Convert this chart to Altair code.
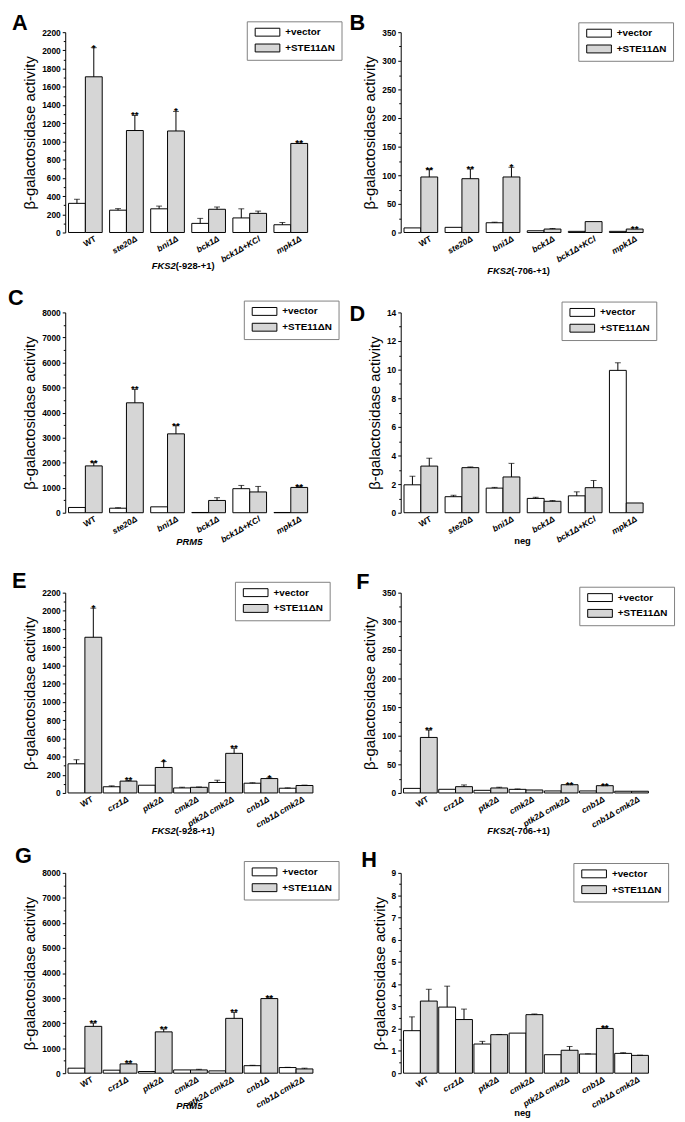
import altair as alt
import pandas as pd

SERIES = ["+vector", "+STE11ΔN"]
FILL_COLORS = ["#ffffff", "#d6d6d6"]
LETTERS = ["A", "B", "C", "D", "E", "F", "G", "H"]
Y_TITLE = "β-galactosidase activity"

GROUPS_1 = ["WT", "ste20Δ", "bni1Δ", "bck1Δ", "bck1Δ+KCl", "mpk1Δ"]
GROUPS_2 = ["WT", "crz1Δ", "ptk2Δ", "cmk2Δ", "ptk2Δ cmk2Δ", "cnb1Δ", "cnb1Δ cmk2Δ"]

# Panel A  FKS2 (-928-+1)
A_vec = [320, 245, 260, 100, 160, 85]
A_vec_err = [45, 17, 30, 55, 100, 25]
A_ste = [1710, 1120, 1115, 255, 210, 978]
A_ste_err = [320, 165, 215, 25, 25, 5]
A_stars = ["*", "**", "*", "", "", "**"]

# Panel B  FKS2 (-706-+1)
B_vec = [8, 9, 17, 3, 2, 2]
B_vec_err = [0, 0, 1, 0, 0, 0]
B_ste = [97, 94, 97, 6, 19, 6]
B_ste_err = [13, 17, 17, 1, 0, 0]
B_stars = ["**", "**", "*", "", "", "**"]

# Panel C  PRM5
C_vec = [210, 180, 235, 10, 960, 10]
C_vec_err = [0, 20, 0, 0, 130, 0]
C_ste = [1870, 4390, 3150, 490, 830, 1010]
C_ste_err = [130, 530, 330, 110, 220, 30]
C_stars = ["**", "**", "**", "", "", "**"]

# Panel D  neg
D_vec = [1.95, 1.12, 1.72, 1.0, 1.18, 9.95]
D_vec_err = [0.6, 0.1, 0.05, 0.08, 0.28, 0.53]
D_ste = [3.26, 3.15, 2.5, 0.8, 1.75, 0.68]
D_ste_err = [0.55, 0.05, 0.95, 0.05, 0.5, 0]
D_stars = ["", "", "", "", "", ""]

# Panel E  FKS2 (-928-+1)
E_vec = [320, 68, 85, 55, 115, 107, 52]
E_vec_err = [45, 10, 0, 8, 25, 5, 4]
E_ste = [1710, 130, 280, 62, 435, 158, 82]
E_ste_err = [320, 7, 65, 4, 55, 8, 4]
E_stars = ["*", "**", "*", "", "**", "*", ""]

# Panel F  FKS2 (-706-+1)
F_vec = [8, 6.4, 4.6, 6.3, 3.5, 3.5, 3]
F_vec_err = [0, 0, 0, 0.7, 0, 0, 0]
F_ste = [97, 11, 8.7, 5.2, 14.4, 12.7, 3]
F_ste_err = [13, 3, 1.3, 0, 0, 0, 0]
F_stars = ["**", "", "", "", "**", "**", ""]

# Panel G  PRM5
G_vec = [200, 120, 66, 130, 92, 300, 225]
G_vec_err = [0, 0, 0, 0, 0, 15, 10]
G_ste = [1870, 370, 1650, 130, 2190, 2980, 170]
G_ste_err = [130, 25, 115, 25, 235, 25, 30]
G_stars = ["**", "**", "**", "", "**", "**", ""]

# Panel H  neg
H_vec = [1.91, 2.97, 1.31, 1.8, 0.83, 0.86, 0.89]
H_vec_err = [0.62, 0.94, 0.12, 0, 0, 0.01, 0.03]
H_ste = [3.24, 2.41, 1.73, 2.63, 1.03, 2.01, 0.8]
H_ste_err = [0.53, 0.47, 0.01, 0.03, 0.17, 0.03, 0.01]
H_stars = ["", "", "", "", "", "**", ""]

# Axis ticks (major labelled, minor unlabelled)
TICKS_2200 = [0, 200, 400, 600, 800, 1000, 1200, 1400, 1600, 1800, 2000, 2200]
MINOR_2200 = [100, 300, 500, 700, 900, 1100, 1300, 1500, 1700, 1900, 2100]
TICKS_350 = [0, 50, 100, 150, 200, 250, 300, 350]
MINOR_350 = [25, 75, 125, 175, 225, 275, 325]
TICKS_8000 = [0, 1000, 2000, 3000, 4000, 5000, 6000, 7000, 8000]
MINOR_8000 = [500, 1500, 2500, 3500, 4500, 5500, 6500, 7500]
TICKS_14 = [0, 2, 4, 6, 8, 10, 12, 14]
MINOR_14 = [1, 3, 5, 7, 9, 11, 13]
TICKS_9 = [0, 1, 2, 3, 4, 5, 6, 7, 8, 9]
MINOR_9 = [0.5, 1.5, 2.5, 3.5, 4.5, 5.5, 6.5, 7.5, 8.5]

# x titles: (italic gene part, normal part)
XTITLES = [("FKS2", " (-928-+1)"), ("FKS2", " (-706-+1)"), ("PRM5", ""), ("", "neg"),
           ("FKS2", " (-928-+1)"), ("FKS2", " (-706-+1)"), ("PRM5", ""), ("", "neg")]

W, H = 249, 203

PANELS = [
    (GROUPS_1, A_vec, A_vec_err, A_ste, A_ste_err, A_stars, TICKS_2200, MINOR_2200),
    (GROUPS_1, B_vec, B_vec_err, B_ste, B_ste_err, B_stars, TICKS_350, MINOR_350),
    (GROUPS_1, C_vec, C_vec_err, C_ste, C_ste_err, C_stars, TICKS_8000, MINOR_8000),
    (GROUPS_1, D_vec, D_vec_err, D_ste, D_ste_err, D_stars, TICKS_14, MINOR_14),
    (GROUPS_2, E_vec, E_vec_err, E_ste, E_ste_err, E_stars, TICKS_2200, MINOR_2200),
    (GROUPS_2, F_vec, F_vec_err, F_ste, F_ste_err, F_stars, TICKS_350, MINOR_350),
    (GROUPS_2, G_vec, G_vec_err, G_ste, G_ste_err, G_stars, TICKS_8000, MINOR_8000),
    (GROUPS_2, H_vec, H_vec_err, H_ste, H_ste_err, H_stars, TICKS_9, MINOR_9),
]

# per-panel placement (legend x/y, letter x/y, x-title offset below axis, x-title split x)
LAYOUT = [
    dict(leg=(184, -11), let=(-54, -2), xt=34, split=112),
    dict(leg=(180, -10), let=(-52, -2), xt=39, split=112),
    dict(leg=(181, -12), let=(-58, -8), xt=30, split=139),
    dict(leg=(163, -11), let=(-52, 9), xt=29, split=115),
    dict(leg=(172, -11), let=(-54, -5), xt=39, split=112),
    dict(leg=(181, -6), let=(-45, -4), xt=39, split=112),
    dict(leg=(181, -12), let=(-51, -10), xt=33, split=139),
    dict(leg=(175, -10), let=(-40, -6), xt=40, split=115),
]

FONT = "Liberation Sans"
LABEL_ANGLE = 330


def make_panel(idx):
    groups, vec, vec_err, ste, ste_err, stars, major, minor = PANELS[idx]
    lay = LAYOUT[idx]
    rows = []
    for i, g in enumerate(groups):
        rows.append(dict(group=g, series=SERIES[0], value=vec[i], err=vec_err[i], star=""))
        rows.append(dict(group=g, series=SERIES[1], value=ste[i], err=ste_err[i], star=stars[i]))
    df = pd.DataFrame(rows)
    df["top"] = df["value"] + df["err"]

    yscale = alt.Scale(domain=[major[0], major[-1]], nice=False, zero=True)
    xscale = alt.Scale(paddingInner=0.18, paddingOuter=0.08)
    x_enc = alt.X(
        "group:N", sort=groups, title=None, scale=xscale,
        axis=alt.Axis(labels=False, tickBand="extent", tickSize=3, tickColor="black",
                      domainColor="black"),
    )
    xo = alt.XOffset("series:N", sort=SERIES, scale=alt.Scale(paddingInner=0, paddingOuter=0))
    base = alt.Chart(df).encode(x=x_enc, xOffset=xo)

    bars = base.mark_bar(stroke="black", strokeWidth=1).encode(
        y=alt.Y(
            "value:Q", scale=yscale,
            axis=alt.Axis(
                values=major, format="d", title=Y_TITLE, titleFontSize=15,
                titleFontWeight="normal", titleColor="black", titlePadding=4,
                labelFontSize=8.5, labelFontWeight="bold", labelColor="black",
                tickSize=3, tickColor="black", domainColor="black", grid=False,
                labelPadding=2,
            ),
        ),
        fill=alt.Fill(
            "series:N", sort=SERIES,
            scale=alt.Scale(domain=SERIES, range=FILL_COLORS),
            legend=alt.Legend(
                title=None, orient="none", legendX=lay["leg"][0], legendY=lay["leg"][1],
                strokeColor="#808080", padding=6, fillColor="white",
                symbolType="M-5,-1.6H5V1.6H-5Z", symbolSize=25,
                symbolStrokeColor="black", symbolStrokeWidth=1, symbolOpacity=1,
                symbolOffset=10, labelOffset=13,
                labelFont=FONT, labelFontSize=10, labelFontWeight="bold",
                labelColor="black", rowPadding=4,
            ),
        ),
    )

    errs = base.transform_filter("datum.err > 0").mark_rule(color="black", strokeWidth=1).encode(
        y=alt.Y(
            "value:Q", scale=yscale,
            axis=alt.Axis(orient="left", values=minor, labels=False, domain=False,
                          tickSize=2, tickColor="black", grid=False, title=None),
        ),
        y2="top:Q",
    )
    caps = base.transform_filter("datum.err > 0").mark_tick(color="black", thickness=1, size=6).encode(
        y=alt.Y("top:Q", scale=yscale, axis=None)
    )
    star_txt = base.mark_text(baseline="alphabetic", dy=3, fontSize=10, fontWeight="bold", color="black").encode(
        y=alt.Y("top:Q", scale=yscale, axis=None), text="star:N"
    )

    # rotated category labels (WT upright, gene names italic)
    ldf = pd.DataFrame({"group": groups})
    lab_x = alt.X("group:N", sort=groups, scale=xscale, axis=None)
    lab_style = dict(angle=LABEL_ANGLE, align="right", baseline="top", fontSize=8.5,
                     fontWeight="bold", color="black", dx=6.9, dy=4.0)
    lab_wt = alt.Chart(ldf).transform_filter("datum.group == 'WT'").mark_text(
        **lab_style
    ).encode(x=lab_x, y=alt.value(H + 2), text="group:N")
    lab_gene = alt.Chart(ldf).transform_filter("datum.group != 'WT'").mark_text(
        fontStyle="italic", **lab_style
    ).encode(x=lab_x, y=alt.value(H + 2), text="group:N")

    letter = alt.Chart(pd.DataFrame({"letter": [LETTERS[idx]]})).mark_text(
        align="left", baseline="alphabetic", fontSize=22, fontWeight="bold", color="black"
    ).encode(x=alt.value(lay["let"][0]), y=alt.value(lay["let"][1]), text="letter:N")

    gene, rest = XTITLES[idx]
    tdf = pd.DataFrame({"gene": [gene], "rest": [rest]})
    gene_txt = alt.Chart(tdf).mark_text(
        align="right", baseline="middle", fontSize=9.5, fontStyle="italic", fontWeight="bold", color="black"
    ).encode(x=alt.value(lay["split"]), y=alt.value(H + lay["xt"]), text="gene:N")
    rest_txt = alt.Chart(tdf).mark_text(
        align="left", baseline="middle", fontSize=9.5, fontWeight="bold", color="black"
    ).encode(x=alt.value(lay["split"]), y=alt.value(H + lay["xt"]), text="rest:N")

    return alt.layer(bars, errs, caps, star_txt, lab_wt, lab_gene, letter, gene_txt, rest_txt).resolve_axis(
        y="independent"
    ).properties(width=W, height=H)


panels = [make_panel(i) for i in range(8)]

chart = alt.concat(
    *panels, columns=2, spacing={"row": 81, "column": 91}, bounds="flush"
).resolve_scale(fill="independent").resolve_legend(fill="independent").configure(
    font=FONT, padding={"left": 0, "top": -3, "right": 2, "bottom": 0}
).configure_view(stroke=None)

chart.save("out.html", embed_options={"renderer": "svg", "actions": False})
